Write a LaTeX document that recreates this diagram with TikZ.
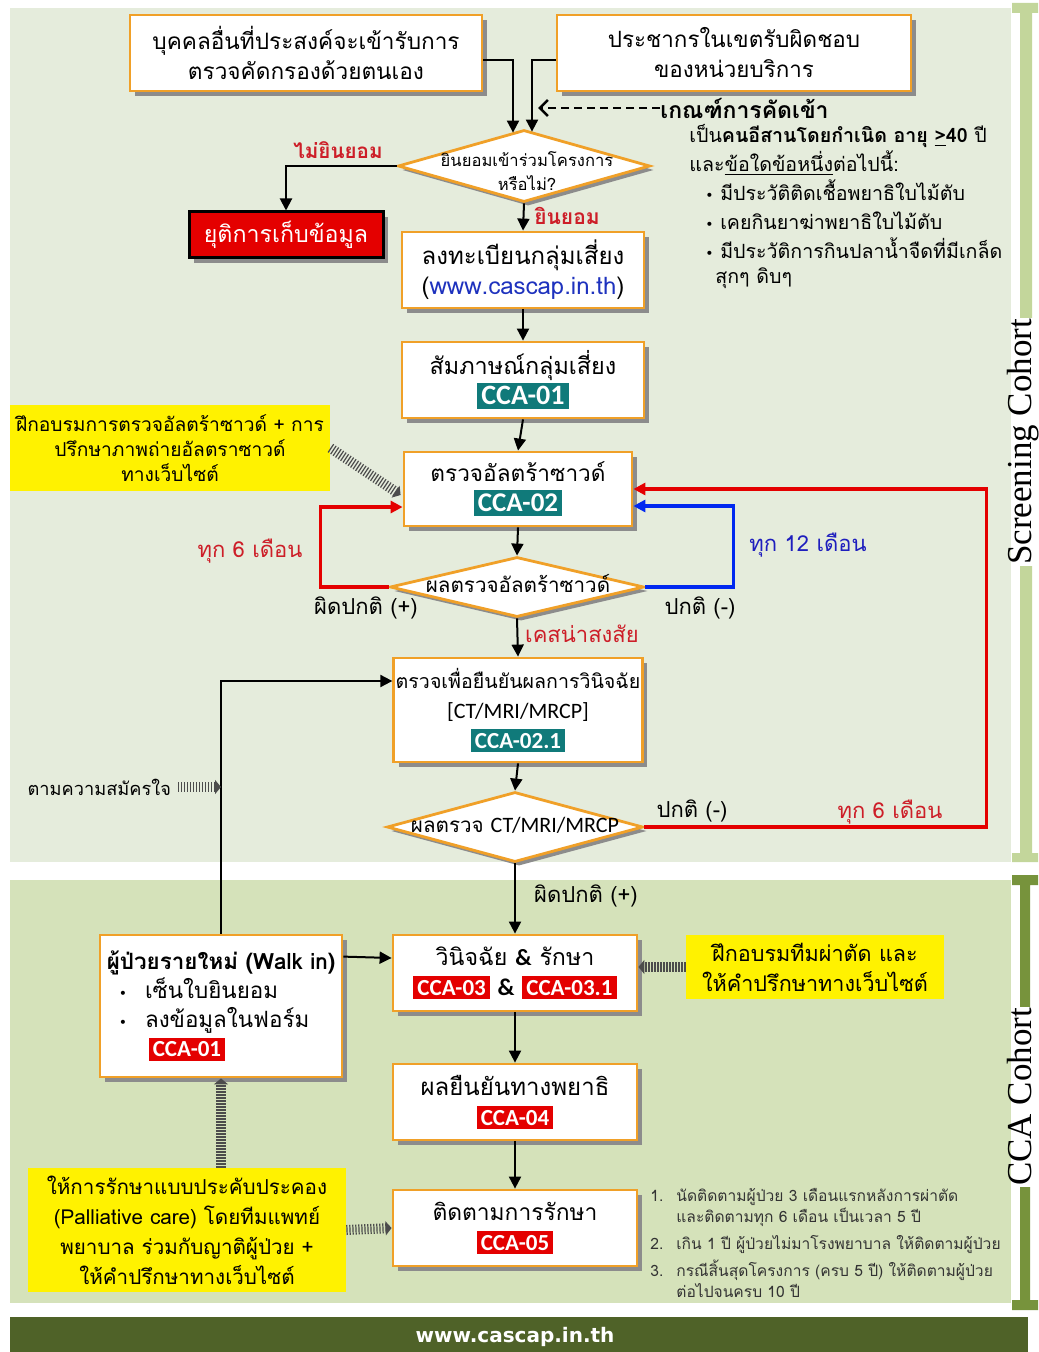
\documentclass[tikz,border=0pt]{standalone}
\usepackage{fontspec}
\setmainfont{Loma}[Script=Thai]
\newfontfamily\calfont{Carlito}
\newfontfamily\symfont{DejaVu Sans}
\newfontfamily\serfont{Liberation Serif}
\usetikzlibrary{arrows.meta,positioning,calc,shapes.geometric,shadows}

\definecolor{scrbg}{RGB}{229,236,220}
\definecolor{ccabg}{RGB}{213,226,186}
\definecolor{scrbar}{RGB}{195,214,155}
\definecolor{ccabar}{RGB}{119,147,60}
\definecolor{footbg}{RGB}{79,98,40}
\definecolor{boxorange}{RGB}{240,160,40}
\definecolor{tagteal}{RGB}{16,122,122}
\definecolor{tagred}{RGB}{228,0,0}
\definecolor{lblred}{RGB}{205,30,40}
\definecolor{lblblue}{RGB}{30,30,190}
\definecolor{urlblue}{RGB}{30,50,190}
\definecolor{loopblue}{RGB}{0,40,240}

\newcommand{\tealtag}[2][13]{{\setlength{\fboxsep}{2pt}\colorbox{tagteal}{\calfont\bfseries\fontsize{#1}{#1}\selectfont\color{white}#2}}}
\newcommand{\redtag}[2][11.5]{{\setlength{\fboxsep}{2pt}\colorbox{tagred}{\calfont\bfseries\fontsize{#1}{#1}\selectfont\color{white}#2}}}
\newcommand{\bul}{{\symfont\fontsize{7}{7}\selectfont •}}

\tikzset{
  procbox/.style={draw=boxorange, line width=1.4pt, fill=white, align=center, inner sep=1pt,
    drop shadow={shadow xshift=2.5pt, shadow yshift=-2.5pt, fill=black!45, opacity=1},
    font=\fontsize{11.5}{15}\selectfont},
  decision/.style={diamond, draw=boxorange, line width=1.4pt, fill=white, inner sep=0pt,
    drop shadow={shadow xshift=2pt, shadow yshift=-2pt, fill=black!45, opacity=1}},
  stopbox/.style={draw=black, line width=1.5pt, fill=tagred, text=white, inner sep=1pt,
    drop shadow={shadow xshift=2.5pt, shadow yshift=-2.5pt, fill=black!45, opacity=1},
    font=\fontsize{11.6}{14}\selectfont},
  yellownote/.style={fill=yellow, align=center, inner sep=1pt},
  lbl/.style={inner sep=1pt, font=\fontsize{11}{13}\selectfont},
  flow/.style={-{Triangle[length=6pt,width=6pt]}, line width=1pt},
  redloop/.style={-{Triangle[length=6pt,width=6pt]}, line width=1.7pt, draw=tagred},
  blueloop/.style={-{Triangle[length=6pt,width=6pt]}, line width=1.7pt, draw=loopblue},
  stripe/.style={draw=black!70, line width=5pt, dash pattern=on 0.6pt off 0.9pt,
    -{Triangle[length=3pt,width=7pt]}},
  sidetext/.style={rotate=90, anchor=base, fill=white, inner sep=0.5pt, text height=0.7em, text depth=0.16em,
    font=\serfont\fontsize{17.5}{17.5}\selectfont},
}

\begin{document}
\begin{tikzpicture}[x=0.5pt,y=-0.5pt]
\useasboundingbox (0,0) rectangle (1038,1352);
% cohort panels
\fill[scrbg] (10,8) rectangle (1011,862);
\fill[ccabg] (10,880) rectangle (1011,1303);
\fill[footbg] (10,1317) rectangle (1028,1352);
\fill[scrbar] (1012,3) rectangle (1038,13) (1020,3) rectangle (1032,862) (1012,853) rectangle (1038,862);
\fill[ccabar] (1012,875) rectangle (1038,885) (1020,875) rectangle (1030,1310) (1012,1300) rectangle (1038,1310);
\node[sidetext] (scrlbl) at (1031,442) {Screening Cohort};
\node[sidetext] (ccalbl) at (1031,1097) {CCA Cohort};
\node[text=white, font=\symfont\bfseries\fontsize{10}{12}\selectfont] (site) at (515,1337) {www.cascap.in.th};

% screening
\node[procbox, minimum width=176pt, minimum height=38pt, font=\fontsize{11.3}{15}\selectfont] (self) at (306,53) {บุคคลอื่นที่ประสงค์จะเข้ารับการ\\ตรวจคัดกรองด้วยตนเอง};
\node[procbox, minimum width=177pt, minimum height=38pt, font=\fontsize{11.2}{15}\selectfont] (popu) at (734,53) {ประชากรในเขตรับผิดชอบ\\ของหน่วยบริการ};
\node[anchor=west, inner sep=0pt, font=\bfseries\fontsize{11.5}{13}\selectfont] (crit) at (660,108) {เกณฑ์การคัดเข้า};
\coordinate (critend) at (538,108);
\node[anchor=north west, align=left, inner sep=0pt, font=\fontsize{9.8}{14.5}\selectfont] (critlist) at (689,124)
  {เป็น\textbf{คนอีสานโดยกำเนิด อายุ \underline{>}40} ปี\\
   และ\underline{ข้อใดข้อหนึ่ง}ต่อไปนี้:\\
   \hspace*{8pt}\bul\ มีประวัติติดเชื้อพยาธิใบไม้ตับ\\
   \hspace*{8pt}\bul\ เคยกินยาฆ่าพยาธิใบไม้ตับ\\
   \hspace*{8pt}\bul\ มีประวัติการกินปลาน้ำจืดที่มีเกล็ด\\[-2pt]
   \hspace*{13pt}สุกๆ ดิบๆ};
\node[decision, minimum width=126pt, minimum height=36pt] (consent) at (524,166) {};
\node[align=center, inner sep=0pt, font=\fontsize{8.3}{12}\selectfont] (consenttxt) at (527,171) {ยินยอมเข้าร่วมโครงการ\\หรือไม่?};
\node[stopbox, minimum width=97pt, minimum height=23pt] (stop) at (286,235) {ยุติการเก็บข้อมูล};
\node[lbl, text=lblred, font=\bfseries\fontsize{10.3}{13}\selectfont] (nocon) at (338,150) {ไม่ยินยอม};
\node[lbl, text=lblred, font=\bfseries\fontsize{10.5}{13}\selectfont] (yescon) at (567,216) {ยินยอม};
\node[procbox, minimum width=121pt, minimum height=38pt, font=\fontsize{12}{15}\selectfont] (regist) at (523,270) {ลงทะเบียนกลุ่มเสี่ยง\\({\color{urlblue}www.cascap.in.th})};
\node[procbox, minimum width=121pt, minimum height=38pt, font=\fontsize{11.7}{15}\selectfont] (interv) at (523,380) {สัมภาษณ์กลุ่มเสี่ยง\\\tealtag[14]{CCA-01}};
\node[procbox, minimum width=114pt, minimum height=37pt, font=\fontsize{11.3}{15}\selectfont] (us) at (518,489) {ตรวจอัลตร้าซาวด์\\\tealtag[13.5]{CCA-02}};
\node[yellownote, minimum width=160pt, minimum height=43pt, font=\fontsize{9.6}{12.5}\selectfont] (ustrain) at (170,448)
  {ฝึกอบรมการตรวจอัลตร้าซาวด์ + การ\\ปรึกษาภาพถ่ายอัลตราซาวด์\\ทางเว็บไซต์};
\node[decision, minimum width=127pt, minimum height=30pt] (usres) at (517,587) {};
\node[inner sep=0pt, font=\fontsize{10.3}{14}\selectfont] (usrestxt) at (518,584) {ผลตรวจอัลตร้าซาวด์};
\node[lbl, text=lblred] (six) at (250,551) {ทุก 6 เดือน};
\node[lbl, text=lblblue] (twelve) at (808,545) {ทุก 12 เดือน};
\node[lbl] (abn) at (366,608) {ผิดปกติ (+)};
\node[lbl] (norm) at (700,608) {ปกติ (-)};
\node[lbl, text=lblred] (suspect) at (582,634) {เคสน่าสงสัย};
\node[procbox, minimum width=121pt, minimum height=52pt, font=\fontsize{9.8}{15}\selectfont] (confirm) at (518,710)
  {ตรวจเพื่อยืนยันผลการวินิจฉัย\\{\calfont\fontsize{11}{15}\selectfont [CT/MRI/MRCP]}\\\tealtag[11.5]{CCA-02.1}};
\node[anchor=east, font=\fontsize{9.1}{12}\selectfont] (vol) at (178,787) {ตามความสมัครใจ};
\node[decision, minimum width=128pt, minimum height=35pt] (ctres) at (515,827) {};
\node[inner sep=0pt, font=\fontsize{10.3}{14}\selectfont] (ctrestxt) at (515,825) {ผลตรวจ {\calfont\fontsize{11}{14}\selectfont CT/MRI/MRCP}};
\node[lbl] (ctnorm) at (692,811) {ปกติ (-)};
\node[lbl, text=lblred] (sixb) at (890,812) {ทุก 6 เดือน};

% cca
\node[lbl] (ctabn) at (586,896) {ผิดปกติ (+)};
\node[procbox, minimum width=122pt, minimum height=38pt, font=\fontsize{11.6}{15}\selectfont] (diag) at (515,973) {วินิจฉัย {\calfont\bfseries\&} รักษา\\\redtag{CCA-03} {\calfont\bfseries\fontsize{12}{12}\selectfont\&} \redtag{CCA-03.1}};
\node[yellownote, minimum width=129pt, minimum height=32pt, font=\fontsize{10.8}{15}\selectfont] (surg) at (815,967) {ฝึกอบรมทีมผ่าตัด และ\\ให้คำปรึกษาทางเว็บไซต์};
\node[procbox, align=left, minimum width=121pt, minimum height=71pt, font=\fontsize{11.2}{14.5}\selectfont] (walkin) at (221,1006)
  {\textbf{ผู้ป่วยรายใหม่ (Walk in)}\\
   \hspace*{6pt}\bul\hspace{9pt}เซ็นใบยินยอม\\
   \hspace*{6pt}\bul\hspace{9pt}ลงข้อมูลในฟอร์ม\\
   \hspace*{21pt}\redtag{CCA-01}};
\node[procbox, minimum width=122pt, minimum height=38pt, font=\fontsize{12}{15}\selectfont] (patho) at (515,1102) {ผลยืนยันทางพยาธิ\\\redtag{CCA-04}};
\node[procbox, minimum width=122pt, minimum height=38pt, font=\fontsize{11.4}{15}\selectfont] (follow) at (515,1228) {ติดตามการรักษา\\\redtag{CCA-05}};
\node[yellownote, minimum width=159pt, minimum height=62pt, font=\fontsize{10.3}{15}\selectfont] (palli) at (187,1230)
  {ให้การรักษาแบบประคับประคอง\\(Palliative care) โดยทีมแพทย์\\พยาบาล ร่วมกับญาติผู้ป่วย +\\ให้คำปรึกษาทางเว็บไซต์};
\node[anchor=north west, align=left, inner sep=0pt, text=black!80, font=\fontsize{7.8}{10.5}\selectfont] (fuplan) at (650,1188)
  {\makebox[13pt][l]{1.}นัดติดตามผู้ป่วย 3 เดือนแรกหลังการผ่าตัด\\
   \hspace*{13pt}และติดตามทุก 6 เดือน เป็นเวลา 5 ปี\\[3pt]
   \makebox[13pt][l]{2.}เกิน 1 ปี ผู้ป่วยไม่มาโรงพยาบาล ให้ติดตามผู้ป่วย\\[3pt]
   \makebox[13pt][l]{3.}กรณีสิ้นสุดโครงการ (ครบ 5 ปี) ให้ติดตามผู้ป่วย\\
   \hspace*{13pt}ต่อไปจนครบ 10 ปี};

% connectors
\draw[flow] ([yshift=-3.5pt]self.east) -| ($(consent.north)+(-11,4)$);
\draw[flow] ([yshift=-3.5pt]popu.west) -| ($(consent.north)+(8,3)$);
\draw[dashed, dash pattern=on 4pt off 2.5pt, line width=1.3pt, -{Straight Barb[length=4pt,width=8pt]}] (crit.west) -- (critend);
\draw[flow] (consent.west) -| (stop.north);
\draw[flow] (consent.south) -- (regist.north);
\draw[flow] (regist.south) -- (interv.north);
\draw[flow] (interv.south) -- (us.north);
\draw[flow] (us.south) -- (usres.north);
\draw[flow] (usres.south) -- (confirm.north);
\draw[flow] (confirm.south) -- (ctres.north);
\draw[flow] (ctres.south) -- (diag.north);
\draw[flow] (diag.south) -- (patho.north);
\draw[flow] (patho.south) -- (follow.north);
\draw[redloop] (usres.west) -- ++(-68,0) |- ($(us.west)+(0,18)$);
\draw[blueloop] (usres.east) -- ++(88,0) |- ($(us.east)+(0,17)$);
\draw[redloop] (ctres.east) -- ++(342,0) |- (us.east);
\draw[flow] (walkin.north) |- ($(confirm.west)+(0,-29)$);
\draw[flow] ($(walkin.north east)+(0,23)$) -- ($(diag.west)+(0,-15)$);
\draw[stripe] (ustrain.east) -- ($(us.west)+(-2,6)$);
\draw[stripe] (vol.east) -- (vol.east -| walkin.north);
\draw[stripe] (palli.north -| walkin.south) -- (walkin.south);
\draw[stripe] (palli.east) -- (follow.west);
\draw[stripe] (surg.west) -- (surg.west -| diag.east);
\end{tikzpicture}
\end{document}
